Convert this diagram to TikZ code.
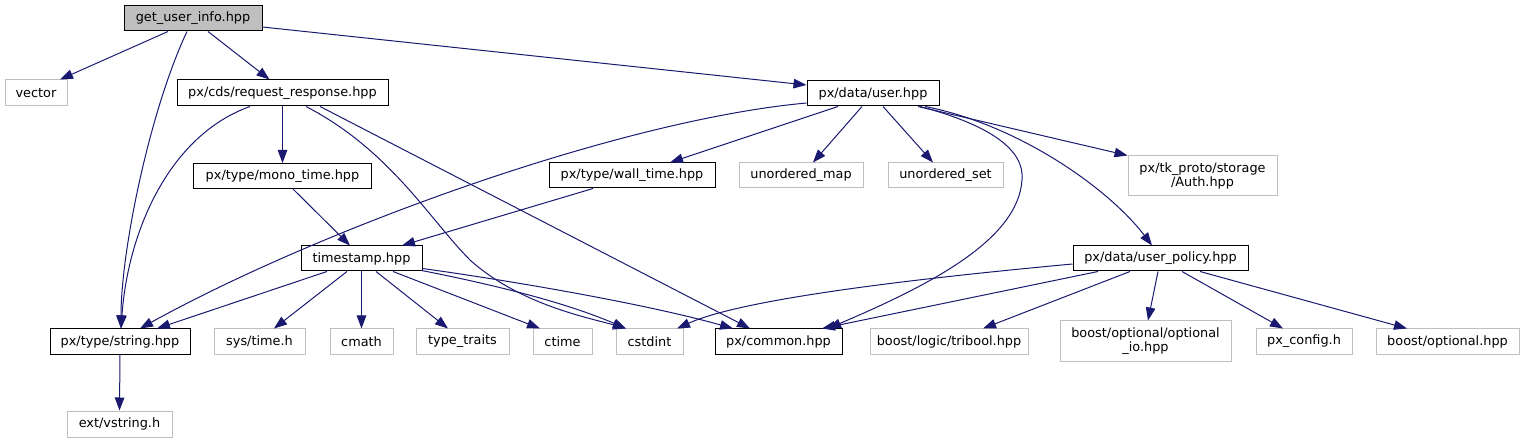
\documentclass[tikz,border=0pt]{standalone}
\usepackage{fontspec}
\setmainfont{DejaVu Sans}
\usetikzlibrary{arrows.meta}
\definecolor{edgec}{HTML}{191970}
\definecolor{extc}{HTML}{BFBFBF}
\tikzset{
  box/.style={draw=black, fill=white, line width=1pt, inner sep=0pt, align=center,
    font=\fontsize{12.85}{14.5}\selectfont},
  extbox/.style={box, draw=extc},
  edge/.style={draw=edgec, line width=1pt, -{Triangle[length=13pt,width=9.5pt]}},
}
\begin{document}
\begin{tikzpicture}[x=1pt,y=-1pt]
\useasboundingbox (0,0) rectangle (1525,443);
% nodes
\node[box, fill=extc, minimum width=138, minimum height=25] (gui) at (193,18.5) {get\_user\_info.hpp};
\node[extbox, minimum width=62, minimum height=26] (vector) at (36,93) {vector};
\node[box, minimum width=211, minimum height=26] (rr) at (282.5,93) {px/cds/request\_response.hpp};
\node[box, minimum width=132, minimum height=25] (user) at (873,93.5) {px/data/user.hpp};
\node[box, minimum width=178, minimum height=25] (mono) at (282.5,176) {px/type/mono\_time.hpp};
\node[box, minimum width=166, minimum height=25] (wall) at (632,175.5) {px/type/wall\_time.hpp};
\node[extbox, minimum width=124, minimum height=25] (umap) at (801,175.5) {unordered\_map};
\node[extbox, minimum width=115, minimum height=25] (uset) at (945.5,175.5) {unordered\_set};
\node[extbox, minimum width=149, minimum height=40] (auth) at (1202.5,176) {px/tk\_proto/storage\\/Auth.hpp};
\node[box, minimum width=121, minimum height=25] (ts) at (361.5,258.5) {timestamp.hpp};
\node[box, minimum width=175, minimum height=25] (up) at (1160.5,258.5) {px/data/user\_policy.hpp};
\node[box, minimum width=140, minimum height=25] (str) at (120,341.5) {px/type/string.hpp};
\node[extbox, minimum width=91, minimum height=25] (systime) at (259.5,341.5) {sys/time.h};
\node[extbox, minimum width=63, minimum height=25] (cmath) at (361.5,341.5) {cmath};
\node[extbox, minimum width=93, minimum height=25] (tt) at (462.5,341.5) {type\_traits};
\node[extbox, minimum width=59, minimum height=25] (ctime) at (562.5,341.5) {ctime};
\node[extbox, minimum width=67, minimum height=25] (cstdint) at (649.5,341.5) {cstdint};
\node[box, minimum width=127, minimum height=25] (common) at (778.5,341.5) {px/common.hpp};
\node[extbox, minimum width=158, minimum height=25] (tribool) at (949,341.5) {boost/logic/tribool.hpp};
\node[extbox, minimum width=171, minimum height=40] (optio) at (1145.5,341) {boost/optional/optional\\\_io.hpp};
\node[extbox, minimum width=96, minimum height=25] (pxconf) at (1304,341.5) {px\_config.h};
\node[extbox, minimum width=143, minimum height=25] (bopt) at (1447.5,341.5) {boost/optional.hpp};
\node[extbox, minimum width=105, minimum height=26] (vstr) at (119.5,424) {ext/vstring.h};
% edges from get_user_info
\draw[edge] ([xshift=-25pt]gui.south) -- ([xshift=24pt]vector.north);
\draw[edge] ([xshift=-6pt]gui.south) .. controls (150,110) and (121,250) .. ([xshift=1pt]str.north);
\draw[edge] ([xshift=15pt]gui.south) -- ([xshift=-13pt]rr.north);
\draw[edge] ([yshift=-8.5pt]gui.east) -- ([yshift=8.5pt]user.west);
% edges from request_response
\draw[edge] ([xshift=-32.5pt]rr.south) .. controls (170,135) and (128,230) .. ([xshift=1pt]str.north);
\draw[edge] (rr.south) -- (mono.north);
\draw[edge] ([xshift=23.5pt]rr.south) .. controls (390,150) and (430,220) .. (470,260) .. controls (520,305) and (590,318) .. ([xshift=-23.5pt]cstdint.north);
\draw[edge] ([xshift=37.5pt]rr.south) -- ([xshift=-28.5pt]common.north);
% edges from user
\draw[edge] ([yshift=-9.5pt]user.west) .. controls (620,120) and (320,229) .. ([xshift=20pt]str.north);
\draw[edge] ([xshift=-35pt]user.south) -- ([xshift=38pt]wall.north);
\draw[edge] ([xshift=-11pt]user.south) -- ([xshift=12pt]umap.north);
\draw[edge] ([xshift=10pt]user.south) -- ([xshift=-12.5pt]uset.north);
\draw[edge] ([xshift=47pt]user.south) .. controls (990,125) and (1025,150) .. (1022,180) .. controls (1018,240) and (930,285) .. ([xshift=49.5pt]common.north);
\draw[edge] ([xshift=52pt]user.south) .. controls (1020,125) and (1110,190) .. ([xshift=-8.5pt]up.north);
\draw[edge] ([xshift=45pt]user.south) -- (auth.north west);
% mono, wall
\draw[edge] ([xshift=10.5pt]mono.south) -- ([xshift=-11.5pt]ts.north);
\draw[edge] ([xshift=-39pt]wall.south) -- ([xshift=40.5pt]ts.north);
% timestamp
\draw[edge] ([xshift=-34.5pt]ts.south) -- ([xshift=37pt]str.north);
\draw[edge] ([xshift=-14.5pt]ts.south) -- ([xshift=14.5pt]systime.north);
\draw[edge] (ts.south) -- (cmath.north);
\draw[edge] ([xshift=14.5pt]ts.south) -- ([xshift=-14.5pt]tt.north);
\draw[edge] ([xshift=31.5pt]ts.south) -- ([xshift=-22.5pt]ctime.north);
\draw[edge] ([xshift=-1pt,yshift=1pt]ts.south east) .. controls (480,282) and (560,300) .. ([xshift=-23.5pt]cstdint.north);
\draw[edge] ([yshift=3pt]ts.south east) .. controls (520,282) and (650,305) .. ([xshift=-45.5pt]common.north);
% user_policy
\draw[edge] ([yshift=-5.5pt]up.west) .. controls (900,280) and (740,300) .. ([xshift=27.5pt]cstdint.north);
\draw[edge] ([xshift=-62.5pt]up.south) -- ([xshift=43.5pt]common.north);
\draw[edge] ([xshift=-30.5pt]up.south) -- ([xshift=34pt]tribool.north);
\draw[edge] ([xshift=-2.5pt]up.south) -- ([xshift=2.5pt]optio.north);
\draw[edge] ([xshift=21.5pt]up.south) -- ([xshift=-21pt]pxconf.north);
\draw[edge] ([xshift=39.5pt]up.south) -- ([xshift=-40.5pt]bopt.north);
% string
\draw[edge] (str.south) -- (vstr.north);
\end{tikzpicture}
\end{document}
